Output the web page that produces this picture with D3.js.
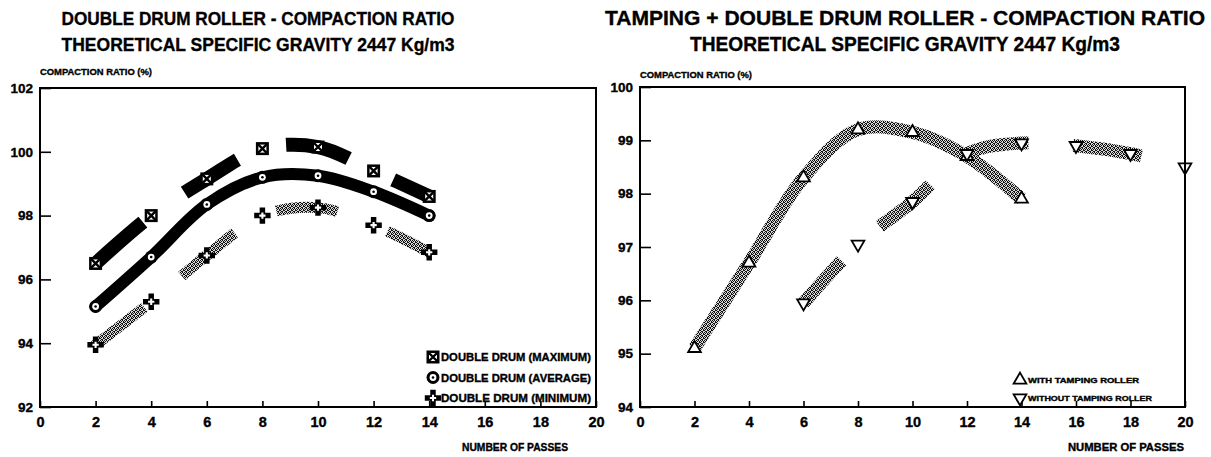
<!DOCTYPE html>
<html>
<head>
<meta charset="utf-8">
<script src="https://cdn.jsdelivr.net/npm/d3@7"></script>
<style>
  body { margin: 0; background: #fff; }
  svg { display: block; font-family: "Liberation Sans", Arial, sans-serif; font-weight: bold; }
  text { stroke: #000; stroke-width: 0.35px; }
</style>
</head>
<body>
<svg id="chart" width="1211" height="457"></svg>
<script>
// left chart: double drum roller
const passes = [2, 4, 6, 8, 10, 12, 14];
const ddMax = [96.5, 98.0, 99.15, 100.1, 100.15, 99.4, 98.6];
const ddAvg = [95.15, 96.7, 98.35, 99.2, 99.25, 98.75, 98.0];
const ddMin = [93.95, 95.3, 96.75, 98.0, 98.25, 97.7, 96.85];
// where the thick bands of the scan are drawn (in passes)
const maxBands = [[2, 3.7], [5.2, 7.1], [8.85, 11.1], [12.7, 14]];
const avgBands = [[2, 14]];
const minBands = [[2, 3.75], [5.1, 7.0], [8.5, 10.7], [12.5, 14]];

// right chart: tamping + double drum roller
const withPasses = [2, 4, 6, 8, 10, 12, 14];
const withTamping = [95.1, 96.7, 98.3, 99.2, 99.15, 98.7, 97.9];
const withoutPasses = [6, 8, 10, 12, 14, 16, 18, 20];
const withoutTamping = [95.95, 97.05, 97.85, 98.75, 98.95, 98.9, 98.75, 98.5];
const withBands = [[2, 14]];
const withoutBands = [[6, 7.4], [8.8, 10.65], [11.8, 14.25], [15.9, 18.4]];

const xTicks = [0, 2, 4, 6, 8, 10, 12, 14, 16, 18, 20];
const leftYTicks = [92, 94, 96, 98, 100, 102];
const rightYTicks = [94, 95, 96, 97, 98, 99, 100];

const svg = d3.select("#chart");

// stipple texture for the grey bands
const defs = svg.append("defs");
const pat = defs.append("pattern")
    .attr("id", "stipple")
    .attr("patternUnits", "userSpaceOnUse")
    .attr("width", 4).attr("height", 4);
pat.append("rect").attr("width", 4).attr("height", 4).attr("fill", "#d8d8d8");
[[0, 0], [2, 0], [1, 1], [3, 1], [0, 2], [3, 2], [1, 3], [2, 3]].forEach(p => {
    pat.append("rect").attr("x", p[0]).attr("y", p[1]).attr("width", 1).attr("height", 1).attr("fill", "#111");
});

function lengthAt(node, px) {
    let lo = 0, hi = node.getTotalLength();
    for (let i = 0; i < 30; i++) {
        const mid = (lo + hi) / 2;
        if (node.getPointAtLength(mid).x < px) lo = mid; else hi = mid;
    }
    return lo;
}

function drawBand(g, x, y, xs, ys, bands, stroke, width, cap) {
    const pts = xs.map((d, i) => [x(d), y(ys[i])]);
    const line = d3.line().curve(d3.curveCatmullRom.alpha(0.5));
    const path = g.append("path")
        .attr("d", line(pts))
        .attr("fill", "none")
        .attr("stroke", stroke)
        .attr("stroke-width", width)
        .attr("stroke-linecap", cap)
        .attr("stroke-linejoin", "round");
    const node = path.node();
    const total = node.getTotalLength();
    const dash = [0];
    let pos = 0;
    bands.forEach(([a, b]) => {
        const la = lengthAt(node, x(a)), lb = lengthAt(node, x(b));
        dash.push(la - pos, lb - la);
        pos = lb;
    });
    dash.push(total + 100);
    path.attr("stroke-dasharray", dash.join(" "));
}

// markers
function boxX(g, cx, cy) {
    const s = 13, h = s / 2;
    g.append("rect").attr("x", cx - h).attr("y", cy - h).attr("width", s).attr("height", s).attr("fill", "#000");
    g.append("rect").attr("x", cx - h + 2.5).attr("y", cy - h + 2.5).attr("width", s - 5).attr("height", s - 5).attr("fill", "#fff");
    g.append("path")
        .attr("d", `M${cx - h + 2},${cy - h + 2}L${cx + h - 2},${cy + h - 2}M${cx + h - 2},${cy - h + 2}L${cx - h + 2},${cy + h - 2}`)
        .attr("stroke", "#000").attr("stroke-width", 2.4);
}
function ring(g, cx, cy) {
    g.append("circle").attr("cx", cx).attr("cy", cy).attr("r", 6.5).attr("fill", "#000");
    g.append("circle").attr("cx", cx).attr("cy", cy).attr("r", 3.4).attr("fill", "#fff");
    g.append("circle").attr("cx", cx).attr("cy", cy).attr("r", 1.3).attr("fill", "#000");
}
function plus(g, cx, cy) {
    g.append("path").attr("transform", `translate(${cx},${cy})`)
        .attr("d", d3.symbol(d3.symbolCross, 150)()).attr("fill", "#000");
    g.append("path").attr("transform", `translate(${cx},${cy})`)
        .attr("d", d3.symbol(d3.symbolCross, 22)()).attr("fill", "#fff");
}
function triUp(g, cx, cy) {
    g.append("path").attr("transform", `translate(${cx},${cy})`)
        .attr("d", d3.symbol(d3.symbolTriangle, 70)())
        .attr("fill", "#fff").attr("stroke", "#000").attr("stroke-width", 1.8);
}
function triDown(g, cx, cy) {
    g.append("path").attr("transform", `translate(${cx},${cy}) rotate(180)`)
        .attr("d", d3.symbol(d3.symbolTriangle, 70)())
        .attr("fill", "#fff").attr("stroke", "#000").attr("stroke-width", 1.8);
}

function frame(g, x, y, yTicks, yFmt) {
    const [x0, x1] = x.range();
    const [y0, y1] = y.range();
    g.append("g")
        .attr("transform", `translate(${x0},0)`)
        .call(d3.axisLeft(y).tickValues(yTicks).tickSize(-11).tickPadding(7).tickFormat(yFmt))
        .call(a => a.select(".domain").remove())
        .call(a => a.selectAll("line").attr("stroke-width", 1.6))
        .call(a => a.selectAll("text").attr("font-size", 13.5).attr("font-weight", "bold")
            .attr("font-family", "Liberation Sans").attr("fill", "#000"));
    g.append("g")
        .attr("transform", `translate(0,${y0})`)
        .call(d3.axisBottom(x).tickValues(xTicks).tickSize(-6).tickPadding(10))
        .call(a => a.select(".domain").remove())
        .call(a => a.selectAll("line").attr("stroke-width", 1.6))
        .call(a => a.selectAll("text").attr("font-size", 14.5).attr("font-weight", "bold")
            .attr("font-family", "Liberation Sans").attr("fill", "#000"));
    g.append("rect")
        .attr("x", x0).attr("y", y1)
        .attr("width", x1 - x0).attr("height", y0 - y1)
        .attr("fill", "none").attr("stroke", "#000").attr("stroke-width", 2);
}

function title(g, cx, lines, sizes, widths, ys) {
    lines.forEach((t, i) => {
        g.append("text").attr("x", cx).attr("y", ys[i])
            .attr("text-anchor", "middle").attr("font-size", sizes[i])
            .attr("textLength", widths[i]).attr("lengthAdjust", "spacingAndGlyphs")
            .text(t);
    });
}

// ---------- left chart ----------
const left = svg.append("g");
const xL = d3.scaleLinear().domain([0, 20]).range([40, 596]);
const yL = d3.scaleLinear().domain([92, 102]).range([407, 88]);

title(left, 258, ["DOUBLE DRUM ROLLER - COMPACTION RATIO", "THEORETICAL SPECIFIC GRAVITY 2447 Kg/m3"], [19, 19], [393, 393], [25, 51]);
left.append("text").attr("x", 40).attr("y", 75).attr("font-size", 9.5)
    .attr("textLength", 112).attr("lengthAdjust", "spacingAndGlyphs").text("COMPACTION RATIO (%)");
left.append("text").attr("x", 462).attr("y", 451).attr("font-size", 10.5)
    .attr("textLength", 106).attr("lengthAdjust", "spacingAndGlyphs").text("NUMBER OF PASSES");

drawBand(left, xL, yL, passes, ddMin, minBands, "url(#stipple)", 11, "butt");
drawBand(left, xL, yL, passes, ddMax, maxBands, "#000", 14, "butt");
drawBand(left, xL, yL, passes, ddAvg, avgBands, "#000", 12, "round");
passes.forEach((p, i) => {
    boxX(left, xL(p), yL(ddMax[i]));
    ring(left, xL(p), yL(ddAvg[i]));
    plus(left, xL(p), yL(ddMin[i]));
});

frame(left, xL, yL, leftYTicks, d3.format("d"));

// legend
const legL = [["DOUBLE DRUM (MAXIMUM)", boxX], ["DOUBLE DRUM (AVERAGE)", ring], ["DOUBLE DRUM (MINIMUM)", plus]];
legL.forEach((d, i) => {
    const ly = 357 + i * 20.5;
    d[1](left, 433, ly);
    left.append("text").attr("x", 441).attr("y", ly + 4).attr("font-size", 11)
        .attr("textLength", 150).attr("lengthAdjust", "spacingAndGlyphs").text(d[0]);
});

// ---------- right chart ----------
const right = svg.append("g");
const xR = d3.scaleLinear().domain([0, 20]).range([640, 1185]);
const yR = d3.scaleLinear().domain([94, 100]).range([407, 87]);

title(right, 905, ["TAMPING + DOUBLE DRUM ROLLER - COMPACTION RATIO", "THEORETICAL SPECIFIC GRAVITY 2447 Kg/m3"], [21, 20], [600, 430], [25, 51]);
right.append("text").attr("x", 640).attr("y", 78).attr("font-size", 9.5)
    .attr("textLength", 112).attr("lengthAdjust", "spacingAndGlyphs").text("COMPACTION RATIO (%)");
right.append("text").attr("x", 1068).attr("y", 451).attr("font-size", 10.5)
    .attr("textLength", 116).attr("lengthAdjust", "spacingAndGlyphs").text("NUMBER OF PASSES");

drawBand(right, xR, yR, withPasses, withTamping, withBands, "url(#stipple)", 13, "butt");
drawBand(right, xR, yR, withoutPasses, withoutTamping, withoutBands, "url(#stipple)", 13, "butt");
withPasses.forEach((p, i) => triUp(right, xR(p), yR(withTamping[i])));
withoutPasses.forEach((p, i) => triDown(right, xR(p), yR(withoutTamping[i])));

frame(right, xR, yR, rightYTicks, d3.format("d"));

const legR = [["WITH TAMPING ROLLER", triUp, 111], ["WITHOUT TAMPING ROLLER", triDown, 124]];
legR.forEach((d, i) => {
    const ly = 380 + i * 18;
    d[1](right, 1020, ly);
    right.append("text").attr("x", 1028).attr("y", ly + 3)
        .attr("font-size", 7).attr("textLength", d[2]).attr("lengthAdjust", "spacingAndGlyphs")
        .text(d[0]);
});
</script>
</body>
</html>
